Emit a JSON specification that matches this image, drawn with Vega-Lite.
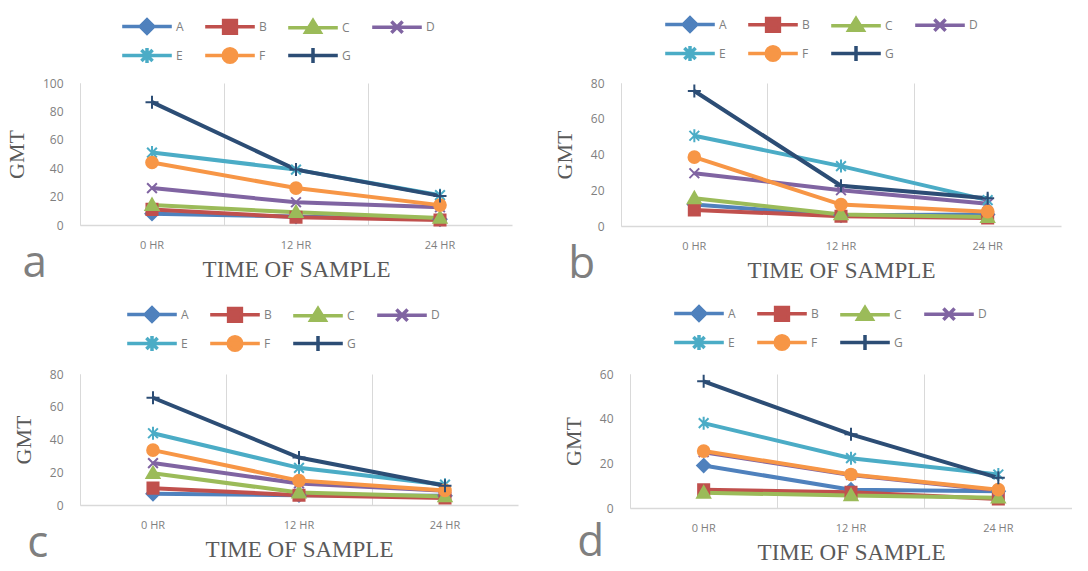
{
  "$schema": "https://vega.github.io/schema/vega-lite/v6.json",
  "padding": {"left": 5, "top": 14, "right": 0, "bottom": 0},
  "background": "white",
  "data": {"values": [
    {"p":"a","s":"A","t":"0 HR","v":8},{"p":"a","s":"A","t":"12 HR","v":6},{"p":"a","s":"A","t":"24 HR","v":4},
    {"p":"a","s":"B","t":"0 HR","v":11},{"p":"a","s":"B","t":"12 HR","v":5.5},{"p":"a","s":"B","t":"24 HR","v":3.5},
    {"p":"a","s":"C","t":"0 HR","v":14},{"p":"a","s":"C","t":"12 HR","v":9},{"p":"a","s":"C","t":"24 HR","v":5},
    {"p":"a","s":"D","t":"0 HR","v":26},{"p":"a","s":"D","t":"12 HR","v":16},{"p":"a","s":"D","t":"24 HR","v":12.5},
    {"p":"a","s":"E","t":"0 HR","v":51},{"p":"a","s":"E","t":"12 HR","v":39},{"p":"a","s":"E","t":"24 HR","v":21},
    {"p":"a","s":"F","t":"0 HR","v":44},{"p":"a","s":"F","t":"12 HR","v":26},{"p":"a","s":"F","t":"24 HR","v":14},
    {"p":"a","s":"G","t":"0 HR","v":86.5},{"p":"a","s":"G","t":"12 HR","v":39},{"p":"a","s":"G","t":"24 HR","v":20.5},
    {"p":"b","s":"A","t":"0 HR","v":12},{"p":"b","s":"A","t":"12 HR","v":6},{"p":"b","s":"A","t":"24 HR","v":6.5},
    {"p":"b","s":"B","t":"0 HR","v":9},{"p":"b","s":"B","t":"12 HR","v":5.5},{"p":"b","s":"B","t":"24 HR","v":4.5},
    {"p":"b","s":"C","t":"0 HR","v":15.5},{"p":"b","s":"C","t":"12 HR","v":6.5},{"p":"b","s":"C","t":"24 HR","v":5},
    {"p":"b","s":"D","t":"0 HR","v":29.5},{"p":"b","s":"D","t":"12 HR","v":20},{"p":"b","s":"D","t":"24 HR","v":12.5},
    {"p":"b","s":"E","t":"0 HR","v":50.5},{"p":"b","s":"E","t":"12 HR","v":33.5},{"p":"b","s":"E","t":"24 HR","v":14.5},
    {"p":"b","s":"F","t":"0 HR","v":38.5},{"p":"b","s":"F","t":"12 HR","v":12},{"p":"b","s":"F","t":"24 HR","v":8},
    {"p":"b","s":"G","t":"0 HR","v":75.5},{"p":"b","s":"G","t":"12 HR","v":22.5},{"p":"b","s":"G","t":"24 HR","v":15.5},
    {"p":"c","s":"A","t":"0 HR","v":6.8},{"p":"c","s":"A","t":"12 HR","v":6},{"p":"c","s":"A","t":"24 HR","v":5.6},
    {"p":"c","s":"B","t":"0 HR","v":10.3},{"p":"c","s":"B","t":"12 HR","v":6},{"p":"c","s":"B","t":"24 HR","v":4.3},
    {"p":"c","s":"C","t":"0 HR","v":19.4},{"p":"c","s":"C","t":"12 HR","v":7.6},{"p":"c","s":"C","t":"24 HR","v":5.2},
    {"p":"c","s":"D","t":"0 HR","v":25.6},{"p":"c","s":"D","t":"12 HR","v":13.2},{"p":"c","s":"D","t":"24 HR","v":8.7},
    {"p":"c","s":"E","t":"0 HR","v":43.8},{"p":"c","s":"E","t":"12 HR","v":22.7},{"p":"c","s":"E","t":"24 HR","v":12.4},
    {"p":"c","s":"F","t":"0 HR","v":33.5},{"p":"c","s":"F","t":"12 HR","v":14.9},{"p":"c","s":"F","t":"24 HR","v":8.9},
    {"p":"c","s":"G","t":"0 HR","v":65.5},{"p":"c","s":"G","t":"12 HR","v":29},{"p":"c","s":"G","t":"24 HR","v":11.8},
    {"p":"d","s":"A","t":"0 HR","v":19},{"p":"d","s":"A","t":"12 HR","v":8.2},{"p":"d","s":"A","t":"24 HR","v":7.5},
    {"p":"d","s":"B","t":"0 HR","v":8.2},{"p":"d","s":"B","t":"12 HR","v":7},{"p":"d","s":"B","t":"24 HR","v":4},
    {"p":"d","s":"C","t":"0 HR","v":6.8},{"p":"d","s":"C","t":"12 HR","v":5.6},{"p":"d","s":"C","t":"24 HR","v":4.6},
    {"p":"d","s":"D","t":"0 HR","v":25},{"p":"d","s":"D","t":"12 HR","v":14.8},{"p":"d","s":"D","t":"24 HR","v":7.8},
    {"p":"d","s":"E","t":"0 HR","v":38},{"p":"d","s":"E","t":"12 HR","v":22.3},{"p":"d","s":"E","t":"24 HR","v":15},
    {"p":"d","s":"F","t":"0 HR","v":25.5},{"p":"d","s":"F","t":"12 HR","v":15},{"p":"d","s":"F","t":"24 HR","v":8.2},
    {"p":"d","s":"G","t":"0 HR","v":56.7},{"p":"d","s":"G","t":"12 HR","v":33},{"p":"d","s":"G","t":"24 HR","v":13.5}
  ]},
  "spacing": 16,
  "resolve": {"scale": {"color": "independent"}, "legend": {"color": "independent"}},
  "vconcat": [
    {
      "spacing": 41,
      "resolve": {"scale": {"color": "independent"}, "legend": {"color": "independent"}},
      "hconcat": [
        {
          "width": 432, "height": 142,
          "transform": [{"filter": "datum.p === 'a'"}],
          "title": {"text": "a", "orient": "bottom", "anchor": "start", "frame": "bounds", "baseline": "alphabetic", "font": "Open Sans", "fontSize": 44, "fontWeight": "normal", "color": "#7f7f7f", "offset": -4, "dx": 17},
          "encoding": {
            "x": {"field": "t", "type": "nominal", "sort": ["0 HR", "12 HR", "24 HR"], "bandPosition": 0.5, "scale": {"type": "band", "paddingInner": 0, "paddingOuter": 0}, "axis": {"bandPosition": 0, "grid": true}, "title": "TIME OF  SAMPLE"},
            "y": {"field": "v", "type": "quantitative", "scale": {"domain": [0, 100]}, "axis": {"values": [0, 20, 40, 60, 80, 100]}, "title": "GMT"},
            "color": {"field": "s", "type": "nominal", "scale": {"domain": ["A","B","C","D","E","F","G"], "range": ["#4F81BD","#C0504D","#9BBB59","#8064A2","#4BACC6","#F79646","#2C4D75"]},
              "legend": {"orient": "none", "legendX": 40, "legendY": -66.5,
                "encode": {"symbols": {"update": {
                  "shape": {"signal": "datum.value==='A'?'M-3.1,0H3.1M0,-0.85L0.85,0L0,0.85L-0.85,0Z':datum.value==='B'?'M-3.1,0H3.1M-0.8,-0.8H0.8V0.8H-0.8Z':datum.value==='C'?'M-3.1,0H3.1M0,-0.9L0.9,0.55H-0.9Z':datum.value==='D'?'M-3.1,0H3.1M-0.7,-0.7L0.7,0.7M-0.7,0.7L0.7,-0.7':datum.value==='E'?'M-3.1,0H3.1M-0.7,-0.7L0.7,0.7M-0.7,0.7L0.7,-0.7M0,-0.95V0.95':datum.value==='F'?'M-3.1,0H3.1M-0.85,0A0.85,0.85 0 1,0 0.85,0A0.85,0.85 0 1,0 -0.85,0Z':'M-3.1,0H3.1M0,-0.95V0.95'"},
                  "fill": {"signal": "datum.value==='A'?'#4F81BD':datum.value==='B'?'#C0504D':datum.value==='C'?'#9BBB59':datum.value==='D'?'#8064A2':datum.value==='E'?'#4BACC6':datum.value==='F'?'#F79646':'#2C4D75'"},
                  "stroke": {"signal": "datum.value==='A'?'#4F81BD':datum.value==='B'?'#C0504D':datum.value==='C'?'#9BBB59':datum.value==='D'?'#8064A2':datum.value==='E'?'#4BACC6':datum.value==='F'?'#F79646':'#2C4D75'"},
                  "size": {"value": 256}, "strokeWidth": {"value": 3.5}, "opacity": {"value": 1}
                }}}}}
          },
          "layer": [
            {"mark": {"type": "line", "strokeWidth": 4}},
            {"transform": [{"filter": "datum.s === 'A'"}], "mark": {"type": "point", "filled": true, "opacity": 1, "size": 169, "strokeWidth": 2, "stroke": "#4F81BD", "shape": "M0,-1L1,0L0,1L-1,0Z"}},
            {"transform": [{"filter": "datum.s === 'B'"}], "mark": {"type": "point", "filled": true, "opacity": 1, "size": 169, "strokeWidth": 2, "stroke": "#C0504D", "shape": "M-0.85,-0.85H0.85V0.85H-0.85Z"}},
            {"transform": [{"filter": "datum.s === 'C'"}], "mark": {"type": "point", "filled": true, "opacity": 1, "size": 169, "strokeWidth": 2, "stroke": "#9BBB59", "shape": "M0,-1L1,0.75H-1Z"}},
            {"transform": [{"filter": "datum.s === 'D'"}], "mark": {"type": "point", "filled": true, "opacity": 1, "size": 169, "strokeWidth": 2, "stroke": "#8064A2", "shape": "M-0.75,-0.75L0.75,0.75M-0.75,0.75L0.75,-0.75"}},
            {"transform": [{"filter": "datum.s === 'E'"}], "mark": {"type": "point", "filled": true, "opacity": 1, "size": 169, "strokeWidth": 2, "stroke": "#4BACC6", "shape": "M-0.75,-0.75L0.75,0.75M-0.75,0.75L0.75,-0.75M0,-1V1"}},
            {"transform": [{"filter": "datum.s === 'F'"}], "mark": {"type": "point", "filled": true, "opacity": 1, "size": 169, "strokeWidth": 2, "stroke": "#F79646", "shape": "M-0.9,0A0.9,0.9 0 1,0 0.9,0A0.9,0.9 0 1,0 -0.9,0Z"}},
            {"transform": [{"filter": "datum.s === 'G'"}], "mark": {"type": "point", "filled": true, "opacity": 1, "size": 169, "strokeWidth": 2, "stroke": "#2C4D75", "shape": "M-1,0H1M0,-1V1"}}
          ]
        },
        {
          "width": 440, "height": 143,
          "transform": [{"filter": "datum.p === 'b'"}],
          "title": {"text": "b", "orient": "bottom", "anchor": "start", "frame": "bounds", "baseline": "alphabetic", "font": "Open Sans", "fontSize": 44, "fontWeight": "normal", "color": "#7f7f7f", "offset": -4, "dx": 15},
          "encoding": {
            "x": {"field": "t", "type": "nominal", "sort": ["0 HR", "12 HR", "24 HR"], "bandPosition": 0.5, "scale": {"type": "band", "paddingInner": 0, "paddingOuter": 0}, "axis": {"bandPosition": 0, "grid": true}, "title": "TIME OF  SAMPLE"},
            "y": {"field": "v", "type": "quantitative", "scale": {"domain": [0, 80]}, "axis": {"values": [0, 20, 40, 60, 80]}, "title": "GMT"},
            "color": {"field": "s", "type": "nominal", "scale": {"domain": ["A","B","C","D","E","F","G"], "range": ["#4F81BD","#C0504D","#9BBB59","#8064A2","#4BACC6","#F79646","#2C4D75"]},
              "legend": {"orient": "none", "legendX": 42, "legendY": -68.5,
                "encode": {"symbols": {"update": {
                  "shape": {"signal": "datum.value==='A'?'M-3.1,0H3.1M0,-0.85L0.85,0L0,0.85L-0.85,0Z':datum.value==='B'?'M-3.1,0H3.1M-0.8,-0.8H0.8V0.8H-0.8Z':datum.value==='C'?'M-3.1,0H3.1M0,-0.9L0.9,0.55H-0.9Z':datum.value==='D'?'M-3.1,0H3.1M-0.7,-0.7L0.7,0.7M-0.7,0.7L0.7,-0.7':datum.value==='E'?'M-3.1,0H3.1M-0.7,-0.7L0.7,0.7M-0.7,0.7L0.7,-0.7M0,-0.95V0.95':datum.value==='F'?'M-3.1,0H3.1M-0.85,0A0.85,0.85 0 1,0 0.85,0A0.85,0.85 0 1,0 -0.85,0Z':'M-3.1,0H3.1M0,-0.95V0.95'"},
                  "fill": {"signal": "datum.value==='A'?'#4F81BD':datum.value==='B'?'#C0504D':datum.value==='C'?'#9BBB59':datum.value==='D'?'#8064A2':datum.value==='E'?'#4BACC6':datum.value==='F'?'#F79646':'#2C4D75'"},
                  "stroke": {"signal": "datum.value==='A'?'#4F81BD':datum.value==='B'?'#C0504D':datum.value==='C'?'#9BBB59':datum.value==='D'?'#8064A2':datum.value==='E'?'#4BACC6':datum.value==='F'?'#F79646':'#2C4D75'"},
                  "size": {"value": 256}, "strokeWidth": {"value": 3.5}, "opacity": {"value": 1}
                }}}}}
          },
          "layer": [
            {"mark": {"type": "line", "strokeWidth": 4}},
            {"transform": [{"filter": "datum.s === 'A'"}], "mark": {"type": "point", "filled": true, "opacity": 1, "size": 169, "strokeWidth": 2, "stroke": "#4F81BD", "shape": "M0,-1L1,0L0,1L-1,0Z"}},
            {"transform": [{"filter": "datum.s === 'B'"}], "mark": {"type": "point", "filled": true, "opacity": 1, "size": 169, "strokeWidth": 2, "stroke": "#C0504D", "shape": "M-0.85,-0.85H0.85V0.85H-0.85Z"}},
            {"transform": [{"filter": "datum.s === 'C'"}], "mark": {"type": "point", "filled": true, "opacity": 1, "size": 169, "strokeWidth": 2, "stroke": "#9BBB59", "shape": "M0,-1L1,0.75H-1Z"}},
            {"transform": [{"filter": "datum.s === 'D'"}], "mark": {"type": "point", "filled": true, "opacity": 1, "size": 169, "strokeWidth": 2, "stroke": "#8064A2", "shape": "M-0.75,-0.75L0.75,0.75M-0.75,0.75L0.75,-0.75"}},
            {"transform": [{"filter": "datum.s === 'E'"}], "mark": {"type": "point", "filled": true, "opacity": 1, "size": 169, "strokeWidth": 2, "stroke": "#4BACC6", "shape": "M-0.75,-0.75L0.75,0.75M-0.75,0.75L0.75,-0.75M0,-1V1"}},
            {"transform": [{"filter": "datum.s === 'F'"}], "mark": {"type": "point", "filled": true, "opacity": 1, "size": 169, "strokeWidth": 2, "stroke": "#F79646", "shape": "M-0.9,0A0.9,0.9 0 1,0 0.9,0A0.9,0.9 0 1,0 -0.9,0Z"}},
            {"transform": [{"filter": "datum.s === 'G'"}], "mark": {"type": "point", "filled": true, "opacity": 1, "size": 169, "strokeWidth": 2, "stroke": "#2C4D75", "shape": "M-1,0H1M0,-1V1"}}
          ]
        }
      ]
    },
    {
      "spacing": 44,
      "resolve": {"scale": {"color": "independent"}, "legend": {"color": "independent"}},
      "hconcat": [
        {
          "width": 438, "height": 131,
          "transform": [{"filter": "datum.p === 'c'"}],
          "title": {"text": "c", "orient": "bottom", "anchor": "start", "frame": "bounds", "baseline": "alphabetic", "font": "Open Sans", "fontSize": 44, "fontWeight": "normal", "color": "#7f7f7f", "offset": -4, "dx": 15},
          "encoding": {
            "x": {"field": "t", "type": "nominal", "sort": ["0 HR", "12 HR", "24 HR"], "bandPosition": 0.5, "scale": {"type": "band", "paddingInner": 0, "paddingOuter": 0}, "axis": {"bandPosition": 0, "grid": true}, "title": "TIME OF  SAMPLE"},
            "y": {"field": "v", "type": "quantitative", "scale": {"domain": [0, 80]}, "axis": {"values": [0, 20, 40, 60, 80]}, "title": "GMT"},
            "color": {"field": "s", "type": "nominal", "scale": {"domain": ["A","B","C","D","E","F","G"], "range": ["#4F81BD","#C0504D","#9BBB59","#8064A2","#4BACC6","#F79646","#2C4D75"]},
              "legend": {"orient": "none", "legendX": 45, "legendY": -69.5,
                "encode": {"symbols": {"update": {
                  "shape": {"signal": "datum.value==='A'?'M-3.1,0H3.1M0,-0.85L0.85,0L0,0.85L-0.85,0Z':datum.value==='B'?'M-3.1,0H3.1M-0.8,-0.8H0.8V0.8H-0.8Z':datum.value==='C'?'M-3.1,0H3.1M0,-0.9L0.9,0.55H-0.9Z':datum.value==='D'?'M-3.1,0H3.1M-0.7,-0.7L0.7,0.7M-0.7,0.7L0.7,-0.7':datum.value==='E'?'M-3.1,0H3.1M-0.7,-0.7L0.7,0.7M-0.7,0.7L0.7,-0.7M0,-0.95V0.95':datum.value==='F'?'M-3.1,0H3.1M-0.85,0A0.85,0.85 0 1,0 0.85,0A0.85,0.85 0 1,0 -0.85,0Z':'M-3.1,0H3.1M0,-0.95V0.95'"},
                  "fill": {"signal": "datum.value==='A'?'#4F81BD':datum.value==='B'?'#C0504D':datum.value==='C'?'#9BBB59':datum.value==='D'?'#8064A2':datum.value==='E'?'#4BACC6':datum.value==='F'?'#F79646':'#2C4D75'"},
                  "stroke": {"signal": "datum.value==='A'?'#4F81BD':datum.value==='B'?'#C0504D':datum.value==='C'?'#9BBB59':datum.value==='D'?'#8064A2':datum.value==='E'?'#4BACC6':datum.value==='F'?'#F79646':'#2C4D75'"},
                  "size": {"value": 256}, "strokeWidth": {"value": 3.5}, "opacity": {"value": 1}
                }}}}}
          },
          "layer": [
            {"mark": {"type": "line", "strokeWidth": 4}},
            {"transform": [{"filter": "datum.s === 'A'"}], "mark": {"type": "point", "filled": true, "opacity": 1, "size": 169, "strokeWidth": 2, "stroke": "#4F81BD", "shape": "M0,-1L1,0L0,1L-1,0Z"}},
            {"transform": [{"filter": "datum.s === 'B'"}], "mark": {"type": "point", "filled": true, "opacity": 1, "size": 169, "strokeWidth": 2, "stroke": "#C0504D", "shape": "M-0.85,-0.85H0.85V0.85H-0.85Z"}},
            {"transform": [{"filter": "datum.s === 'C'"}], "mark": {"type": "point", "filled": true, "opacity": 1, "size": 169, "strokeWidth": 2, "stroke": "#9BBB59", "shape": "M0,-1L1,0.75H-1Z"}},
            {"transform": [{"filter": "datum.s === 'D'"}], "mark": {"type": "point", "filled": true, "opacity": 1, "size": 169, "strokeWidth": 2, "stroke": "#8064A2", "shape": "M-0.75,-0.75L0.75,0.75M-0.75,0.75L0.75,-0.75"}},
            {"transform": [{"filter": "datum.s === 'E'"}], "mark": {"type": "point", "filled": true, "opacity": 1, "size": 169, "strokeWidth": 2, "stroke": "#4BACC6", "shape": "M-0.75,-0.75L0.75,0.75M-0.75,0.75L0.75,-0.75M0,-1V1"}},
            {"transform": [{"filter": "datum.s === 'F'"}], "mark": {"type": "point", "filled": true, "opacity": 1, "size": 169, "strokeWidth": 2, "stroke": "#F79646", "shape": "M-0.9,0A0.9,0.9 0 1,0 0.9,0A0.9,0.9 0 1,0 -0.9,0Z"}},
            {"transform": [{"filter": "datum.s === 'G'"}], "mark": {"type": "point", "filled": true, "opacity": 1, "size": 169, "strokeWidth": 2, "stroke": "#2C4D75", "shape": "M-1,0H1M0,-1V1"}}
          ]
        },
        {
          "width": 442, "height": 134,
          "transform": [{"filter": "datum.p === 'd'"}],
          "title": {"text": "d", "orient": "bottom", "anchor": "start", "frame": "bounds", "baseline": "alphabetic", "font": "Open Sans", "fontSize": 44, "fontWeight": "normal", "color": "#7f7f7f", "offset": -8, "dx": 15},
          "encoding": {
            "x": {"field": "t", "type": "nominal", "sort": ["0 HR", "12 HR", "24 HR"], "bandPosition": 0.5, "scale": {"type": "band", "paddingInner": 0, "paddingOuter": 0}, "axis": {"bandPosition": 0, "grid": true}, "title": "TIME OF  SAMPLE"},
            "y": {"field": "v", "type": "quantitative", "scale": {"domain": [0, 60]}, "axis": {"values": [0, 20, 40, 60]}, "title": "GMT"},
            "color": {"field": "s", "type": "nominal", "scale": {"domain": ["A","B","C","D","E","F","G"], "range": ["#4F81BD","#C0504D","#9BBB59","#8064A2","#4BACC6","#F79646","#2C4D75"]},
              "legend": {"orient": "none", "legendX": 42, "legendY": -70.5,
                "encode": {"symbols": {"update": {
                  "shape": {"signal": "datum.value==='A'?'M-3.1,0H3.1M0,-0.85L0.85,0L0,0.85L-0.85,0Z':datum.value==='B'?'M-3.1,0H3.1M-0.8,-0.8H0.8V0.8H-0.8Z':datum.value==='C'?'M-3.1,0H3.1M0,-0.9L0.9,0.55H-0.9Z':datum.value==='D'?'M-3.1,0H3.1M-0.7,-0.7L0.7,0.7M-0.7,0.7L0.7,-0.7':datum.value==='E'?'M-3.1,0H3.1M-0.7,-0.7L0.7,0.7M-0.7,0.7L0.7,-0.7M0,-0.95V0.95':datum.value==='F'?'M-3.1,0H3.1M-0.85,0A0.85,0.85 0 1,0 0.85,0A0.85,0.85 0 1,0 -0.85,0Z':'M-3.1,0H3.1M0,-0.95V0.95'"},
                  "fill": {"signal": "datum.value==='A'?'#4F81BD':datum.value==='B'?'#C0504D':datum.value==='C'?'#9BBB59':datum.value==='D'?'#8064A2':datum.value==='E'?'#4BACC6':datum.value==='F'?'#F79646':'#2C4D75'"},
                  "stroke": {"signal": "datum.value==='A'?'#4F81BD':datum.value==='B'?'#C0504D':datum.value==='C'?'#9BBB59':datum.value==='D'?'#8064A2':datum.value==='E'?'#4BACC6':datum.value==='F'?'#F79646':'#2C4D75'"},
                  "size": {"value": 256}, "strokeWidth": {"value": 3.5}, "opacity": {"value": 1}
                }}}}}
          },
          "layer": [
            {"mark": {"type": "line", "strokeWidth": 4}},
            {"transform": [{"filter": "datum.s === 'A'"}], "mark": {"type": "point", "filled": true, "opacity": 1, "size": 169, "strokeWidth": 2, "stroke": "#4F81BD", "shape": "M0,-1L1,0L0,1L-1,0Z"}},
            {"transform": [{"filter": "datum.s === 'B'"}], "mark": {"type": "point", "filled": true, "opacity": 1, "size": 169, "strokeWidth": 2, "stroke": "#C0504D", "shape": "M-0.85,-0.85H0.85V0.85H-0.85Z"}},
            {"transform": [{"filter": "datum.s === 'C'"}], "mark": {"type": "point", "filled": true, "opacity": 1, "size": 169, "strokeWidth": 2, "stroke": "#9BBB59", "shape": "M0,-1L1,0.75H-1Z"}},
            {"transform": [{"filter": "datum.s === 'D'"}], "mark": {"type": "point", "filled": true, "opacity": 1, "size": 169, "strokeWidth": 2, "stroke": "#8064A2", "shape": "M-0.75,-0.75L0.75,0.75M-0.75,0.75L0.75,-0.75"}},
            {"transform": [{"filter": "datum.s === 'E'"}], "mark": {"type": "point", "filled": true, "opacity": 1, "size": 169, "strokeWidth": 2, "stroke": "#4BACC6", "shape": "M-0.75,-0.75L0.75,0.75M-0.75,0.75L0.75,-0.75M0,-1V1"}},
            {"transform": [{"filter": "datum.s === 'F'"}], "mark": {"type": "point", "filled": true, "opacity": 1, "size": 169, "strokeWidth": 2, "stroke": "#F79646", "shape": "M-0.9,0A0.9,0.9 0 1,0 0.9,0A0.9,0.9 0 1,0 -0.9,0Z"}},
            {"transform": [{"filter": "datum.s === 'G'"}], "mark": {"type": "point", "filled": true, "opacity": 1, "size": 169, "strokeWidth": 2, "stroke": "#2C4D75", "shape": "M-1,0H1M0,-1V1"}}
          ]
        }
      ]
    }
  ],
  "config": {
    "view": {"stroke": null},
    "axis": {"labelFont": "Open Sans", "labelColor": "#7f7f7f", "titleFont": "Liberation Serif", "titleFontWeight": "normal", "titleColor": "#595959", "ticks": false, "domainColor": "#d9d9d9", "gridColor": "#d9d9d9"},
    "axisX": {"labelFontSize": 11, "labelAngle": 0, "labelPadding": 14, "titlePadding": 8, "titleFontSize": 23, "domainWidth": 1.5},
    "axisY": {"labelFontSize": 12, "labelPadding": 17, "titlePadding": 14, "titleFontSize": 22, "grid": false},
    "legend": {"direction": "horizontal", "columns": 4, "title": null, "symbolSize": 256, "symbolStrokeWidth": 3.5, "symbolOffset": 17, "labelOffset": 19, "columnPadding": 14, "rowPadding": 0, "labelFont": "Open Sans", "labelFontSize": 12, "labelColor": "#7f7f7f"}
  }
}
